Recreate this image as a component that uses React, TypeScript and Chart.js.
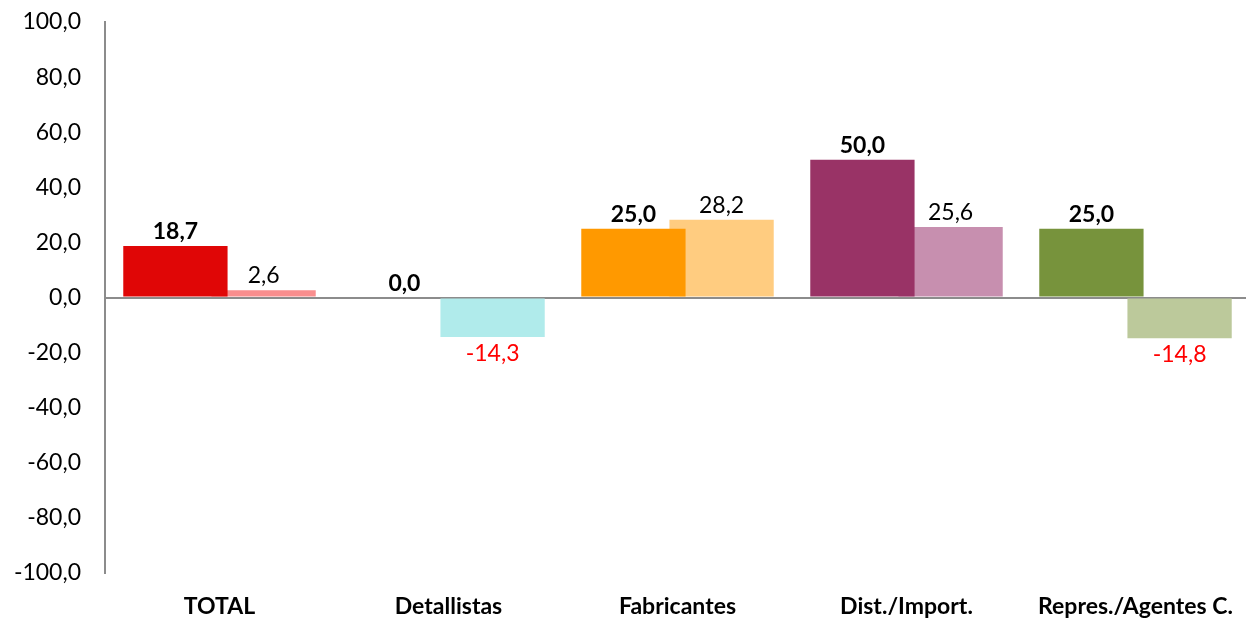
import React, { useEffect, useRef } from "react";
import { Chart, registerables } from "chart.js";

Chart.register(...registerables);

const categories = ["TOTAL", "Detallistas", "Fabricantes", "Dist./Import.", "Repres./Agentes C."];
const series1 = [18.7, 0.0, 25.0, 50.0, 25.0];
const series2 = [2.6, -14.3, 28.2, 25.6, -14.8];
const colors1 = ["#E00606", "#4BACC6", "#FF9900", "#993366", "#77933C"];
const colors2 = ["#F98E8E", "#B0EBEB", "#FFCC80", "#C78FAF", "#BCC99B"];
const yTicks = [-100, -80, -60, -40, -20, 0, 20, 40, 60, 80, 100];

const FONT = "Lato, 'Open Sans', sans-serif";
const FS = 23;
const fmt = (v: number) => v.toFixed(1).replace(".", ",");

const labelPlugin = {
  id: "barLabels",
  afterDatasetsDraw(chart: any) {
    const ctx = chart.ctx;
    chart.data.datasets.forEach((ds: any, di: number) => {
      const meta = chart.getDatasetMeta(di);
      meta.data.forEach((bar: any, i: number) => {
        const v = ds.data[i] as number;
        ctx.save();
        ctx.font = `${di === 0 ? "bold " : ""}${FS}px ${FONT}`;
        ctx.textAlign = "center";
        if (v < 0) {
          ctx.fillStyle = "#FF0000";
          ctx.textBaseline = "top";
          ctx.fillText(fmt(v), bar.x, bar.y + 5);
        } else {
          ctx.fillStyle = "#000000";
          ctx.textBaseline = "alphabetic";
          ctx.fillText(fmt(v), bar.x, bar.y - 7);
        }
        ctx.restore();
      });
    });
  },
};

export default function App() {
  const ref = useRef<HTMLCanvasElement | null>(null);
  useEffect(() => {
    if (!ref.current) return;
    const chart = new Chart(ref.current, {
      type: "bar",
      data: {
        labels: categories,
        datasets: [
          { data: series1, backgroundColor: colors1, borderWidth: 0 },
          { data: series2, backgroundColor: colors2, borderWidth: 0 },
        ],
      },
      options: {
        animation: false,
        responsive: true,
        maintainAspectRatio: false,
        layout: { padding: { top: 22, right: 0, bottom: 0, left: 0 } },
        datasets: { bar: { categoryPercentage: 0.77, barPercentage: 1.183 } },
        plugins: { legend: { display: false }, tooltip: { enabled: false } },
        scales: {
          x: {
            grid: { display: false, drawTicks: false },
            border: { display: false },
            ticks: {
              padding: 20,
              color: "#000",
              font: { family: FONT, size: FS, weight: "bold" },
              maxRotation: 0,
              autoSkip: false,
            },
            afterFit: (s: any) => {
              s.height = 48;
              s.paddingLeft = 0;
              s.paddingRight = 0;
            },
          },
          y: {
            min: -100,
            max: 100,
            afterBuildTicks: (s: any) => {
              s.ticks = yTicks.map((v) => ({ value: v }));
            },
            grid: {
              drawTicks: false,
              color: (c: any) => (c.tick && c.tick.value === 0 ? "#8C8C8C" : "rgba(0,0,0,0)"),
              lineWidth: 2,
            },
            border: { display: true, color: "#8C8C8C", width: 2 },
            ticks: {
              padding: 24,
              color: "#000",
              font: { family: FONT, size: FS },
              callback: (v: any) => fmt(Number(v)),
            },
            afterFit: (s: any) => {
              s.width = 105;
              s.paddingTop = 0;
              s.paddingBottom = 0;
            },
          },
        },
      },
      plugins: [labelPlugin],
    });
    return () => chart.destroy();
  }, []);
  return (
    <div style={{ position: "absolute", left: 0, top: 0, width: 1246, height: 621, overflow: "hidden", background: "#fff" }}>
      <div style={{ position: "relative", width: 1250, height: 621 }}>
        <canvas ref={ref} />
      </div>
    </div>
  );
}
